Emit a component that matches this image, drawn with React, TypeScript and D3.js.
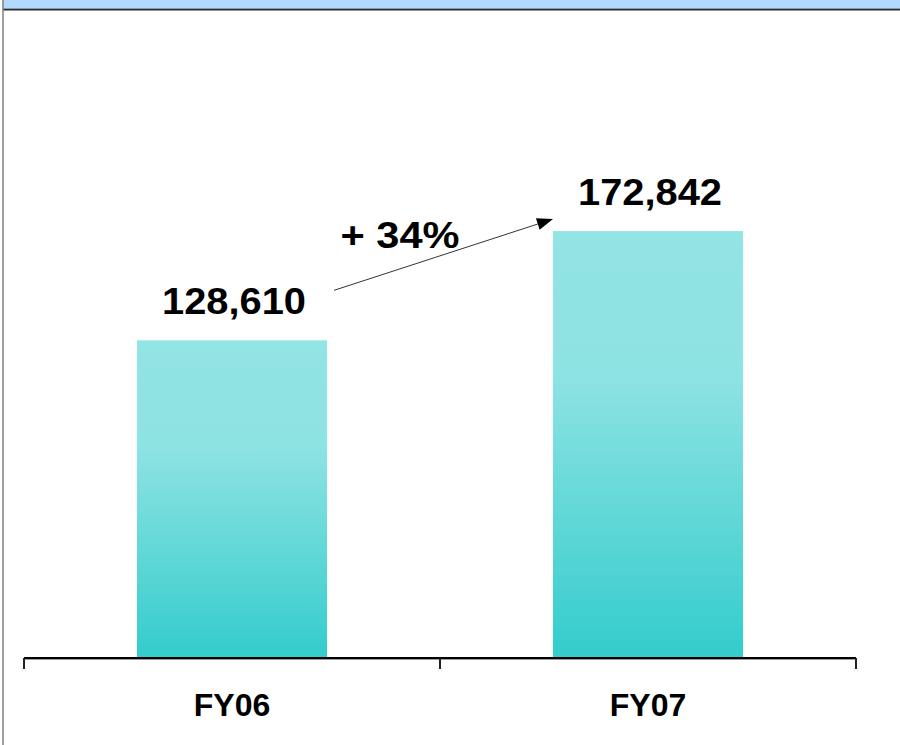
import React from "react";
import * as d3 from "d3";

const categories = ["FY06", "FY07"];
const values = [128610, 172842];
const valueLabels = ["128,610", "172,842"];
const growthLabel = "+ 34%";

const W = 900;
const H = 745;
const axisY = 658;
const x0 = 24;
const x1 = 856;

export default function App() {
  const x = d3.scaleBand<string>().domain(categories).range([x0, x1]).padding(0);
  const y = d3.scaleLinear().domain([0, 200000]).range([axisY, 164]);
  const barW = x.bandwidth() * 0.457;
  const cx = (c: string) => (x(c) as number) + x.bandwidth() / 2;
  const ticks = [x0, ...categories.map((c) => (x(c) as number) + x.bandwidth())];

  const ax1 = cx(categories[0]) + 102;
  const ay1 = y(values[0]) - 50;
  const ax2 = cx(categories[1]) - 95;
  const ay2 = y(values[1]) - 12;
  const ang = Math.atan2(ay2 - ay1, ax2 - ax1);
  const hl = 16;
  const hw = 6;
  const bx = ax2 - hl * Math.cos(ang);
  const by = ay2 - hl * Math.sin(ang);
  const px = -Math.sin(ang) * hw;
  const py = Math.cos(ang) * hw;

  const font = "'Liberation Sans', Arial, sans-serif";

  return (
    <svg
      width={W}
      height={H}
      style={{ position: "absolute", left: 0, top: 0, background: "#fff" }}
      fontFamily={font}
    >
      <defs>
        <linearGradient id="barGrad" x1="0" y1="0" x2="0" y2="1">
          <stop offset="0%" stopColor="#93E4E4" />
          <stop offset="35%" stopColor="#8DE2E2" />
          <stop offset="100%" stopColor="#33CCCC" />
        </linearGradient>
      </defs>
      <rect x={0} y={0} width={W} height={H} fill="#fff" />
      <rect x={3} y={0} width={W - 3} height={8} fill="#B3D9FF" />
      <line x1={3} x2={W} y1={8.5} y2={8.5} stroke="#7f9fbf" strokeWidth={1} />
      <line x1={3} x2={W} y1={9.75} y2={9.75} stroke="#2a2a2a" strokeWidth={1.5} />
      <line x1={3} x2={3} y1={0} y2={H} stroke="#808080" strokeWidth={1.5} />

      {categories.map((c, i) => (
        <rect
          key={c}
          x={cx(c) - barW / 2}
          y={y(values[i])}
          width={barW}
          height={axisY - y(values[i])}
          fill="url(#barGrad)"
        />
      ))}

      <line x1={x0} x2={x1} y1={axisY + 1.5} y2={axisY + 1.5} stroke="#999" strokeWidth={1} />
      <line x1={x0} x2={x1} y1={axisY} y2={axisY} stroke="#000" strokeWidth={2} />
      {ticks.map((t, i) => (
        <line key={i} x1={t} x2={t} y1={axisY} y2={axisY + 11} stroke="#222" strokeWidth={2} />
      ))}

      {categories.map((c) => (
        <text
          key={c}
          x={cx(c)}
          y={716}
          textAnchor="middle"
          fontWeight="bold"
          fontSize={32}
          fill="#000"
        >
          {c}
        </text>
      ))}

      {categories.map((c, i) => (
        <text
          key={c + "v"}
          x={cx(c) + 2}
          y={y(values[i]) - 26.5}
          textAnchor="middle"
          fontWeight="bold"
          fontSize={36}
          textLength={144}
          lengthAdjust="spacingAndGlyphs"
          fill="#000"
        >
          {valueLabels[i]}
        </text>
      ))}

      <line x1={ax1} y1={ay1} x2={bx} y2={by} stroke="#333" strokeWidth={1} />
      <polygon
        points={`${ax2},${ay2} ${bx + px},${by + py} ${bx - px},${by - py}`}
        fill="#000"
      />
      <text
        x={400}
        y={248}
        textAnchor="middle"
        fontWeight="bold"
        fontSize={37}
        textLength={119}
        lengthAdjust="spacingAndGlyphs"
        fill="#000"
      >
        {growthLabel}
      </text>
    </svg>
  );
}
